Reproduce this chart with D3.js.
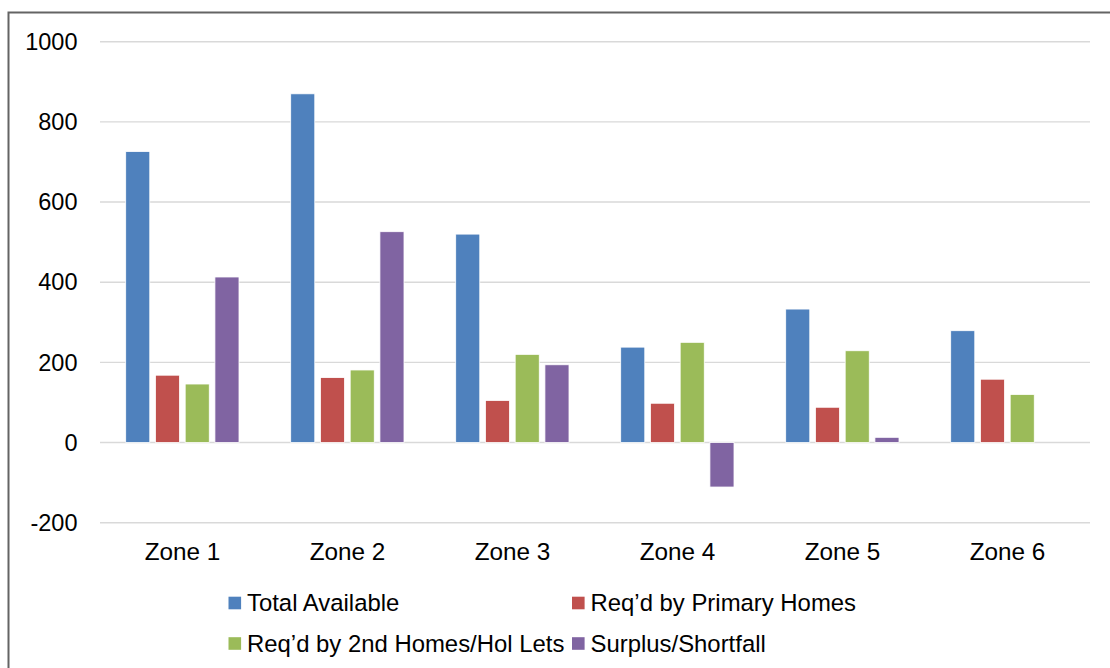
<!DOCTYPE html>
<html><head><meta charset="utf-8">
<script src="https://cdn.jsdelivr.net/npm/d3@7"></script>
<style>html,body{margin:0;padding:0;background:#fff;}svg{display:block;font-family:Arial,"Liberation Sans",sans-serif;}</style>
</head><body>
<svg id="c" width="1110" height="668"></svg>
<script>
const categories = ["Zone 1","Zone 2","Zone 3","Zone 4","Zone 5","Zone 6"];
const seriesNames = ["Total Available","Req\u2019d by Primary Homes","Req\u2019d by 2nd Homes/Hol Lets","Surplus/Shortfall"];
const totalAvailable = [726, 870, 520, 238, 333, 279];
const reqPrimary = [168, 162, 105, 98, 88, 158];
const reqSecond = [146, 181, 220, 250, 229, 120];
const surplus = [413, 526, 194, -111, 13, null];
const yTicks = [-200, 0, 200, 400, 600, 800, 1000];
const colors = ["#4F81BD","#C0504D","#9BBB59","#8064A2"];
const seriesValues = [totalAvailable, reqPrimary, reqSecond, surplus];

const svg = d3.select("#c");
// outer border
svg.append("rect").attr("x",8.5).attr("y",12.5).attr("width",1120).attr("height",700)
  .attr("fill","none").attr("stroke","#646464").attr("stroke-width",2);

const x = d3.scaleBand().domain(categories).range([100,1090]).padding(0);
const x1 = d3.scaleBand().domain(d3.range(4)).range([25.7,139]).paddingInner(0.19).paddingOuter(0);
const y = d3.scaleLinear().domain([-200,1000]).range([522.7,41.7]);

// gridlines
svg.append("g").selectAll("line").data(yTicks).join("line")
  .attr("x1",100).attr("x2",1090)
  .attr("y1",d=>y(d)).attr("y2",d=>y(d))
  .attr("stroke","#d9d9d9").attr("stroke-width",1.4);

// y labels
svg.append("g").selectAll("text").data(yTicks).join("text")
  .attr("x",77.5).attr("y",d=>y(d)).attr("dy","0.35em")
  .attr("text-anchor","end").attr("font-size",23.5).attr("fill","#000")
  .text(d=>d);

// bars
const rows = [];
categories.forEach((c,i)=>seriesValues.forEach((s,j)=>{ if(s[i]!=null) rows.push({c,j,v:s[i]}); }));
svg.append("g").selectAll("rect").data(rows).join("rect")
  .attr("x",d=>x(d.c)+x1(d.j))
  .attr("width",x1.bandwidth())
  .attr("y",d=>Math.min(y(d.v),y(0)))
  .attr("height",d=>Math.abs(y(d.v)-y(0)))
  .attr("fill",d=>colors[d.j])
  .attr("stroke","#fff").attr("stroke-width",0.8);

// category labels
svg.append("g").selectAll("text").data(categories).join("text")
  .attr("x",d=>x(d)+x.bandwidth()/2).attr("y",551).attr("dy","0.35em")
  .attr("text-anchor","middle").attr("font-size",24.3).attr("fill","#000")
  .text(d=>d);

// legend
const legPos = [[228.5,603],[572,603],[228.5,643.5],[572,643.5]];
const lg = svg.append("g").selectAll("g").data(seriesNames).join("g")
  .attr("transform",(d,i)=>`translate(${legPos[i][0]},${legPos[i][1]})`);
lg.append("rect").attr("x",0).attr("y",-6.3).attr("width",12.6).attr("height",12.6)
  .attr("fill",(d,i)=>colors[i]);
lg.append("text").attr("x",18.5).attr("y",0).attr("dy","0.34em")
  .attr("font-size",23.9).attr("fill","#000").text(d=>d);
</script>
</body></html>
